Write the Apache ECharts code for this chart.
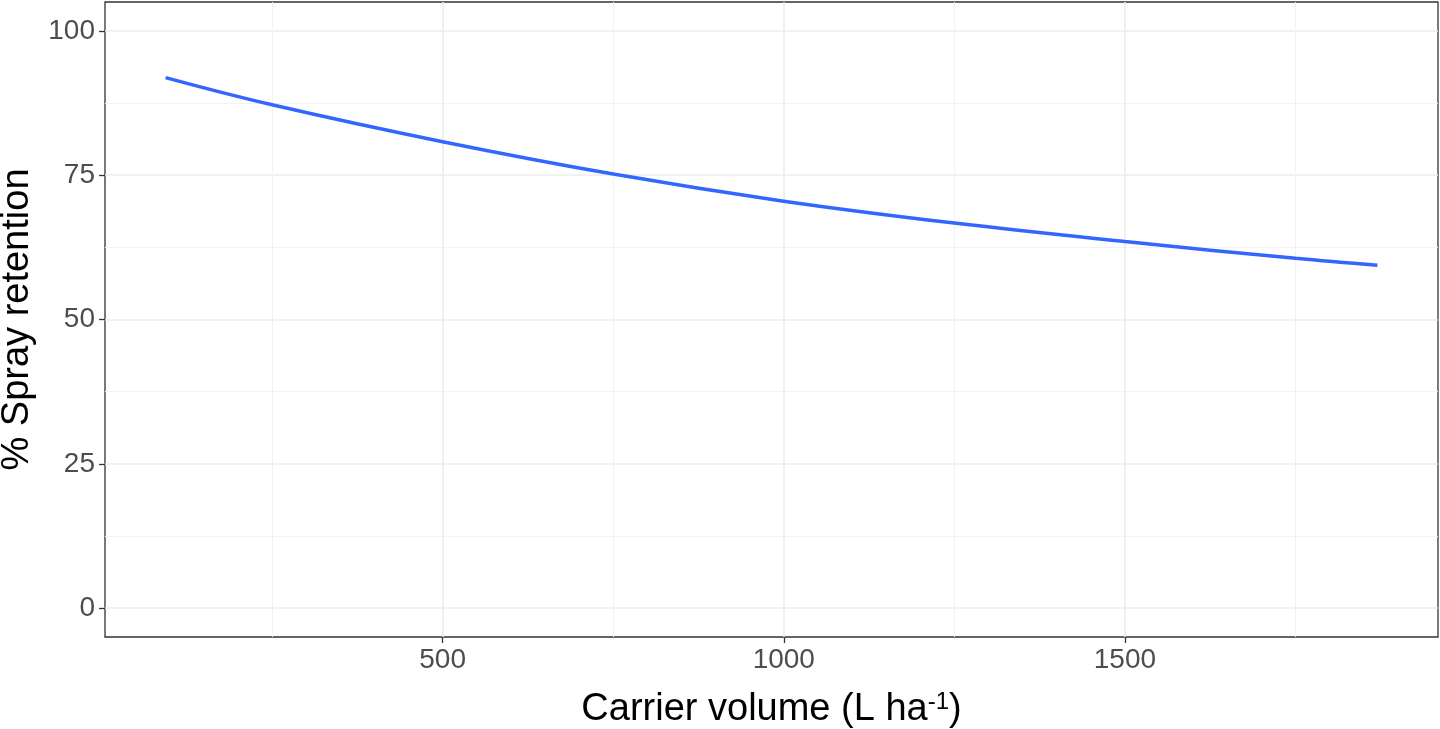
<!DOCTYPE html>
<html>
<head>
<meta charset="utf-8">
<title>Spray retention</title>
<script src="https://cdn.jsdelivr.net/npm/echarts@6/dist/echarts.min.js"></script>
<style>
  html, body { margin: 0; padding: 0; background: #fff; }
  #main { width: 1440px; height: 729px; }
</style>
</head>
<body>
<div id="main"></div>
<script>
// data
var carrierVolume = [94, 250, 500, 750, 1000, 1250, 1500, 1750, 1870];
var sprayRetention = [91.9, 87.2, 80.8, 75.2, 70.5, 66.7, 63.5, 60.6, 59.4];

var xMajor = [500, 1000, 1500];
var xMinor = [250, 750, 1250, 1750];
var yMajor = [0, 25, 50, 75, 100];
var yMinor = [12.5, 37.5, 62.5, 87.5];

var FONT = 'Liberation Sans, Arial, sans-serif';

var lineData = [];
for (var i = 0; i < carrierVolume.length; i++) {
  lineData.push([carrierVolume[i], sprayRetention[i]]);
}

var myChart = echarts.init(document.getElementById('main'));

// minor grid lines go on a second, label-less axis
function minorAxis(pos, vals, min, max) {
  return {
    type: 'value', position: pos, min: min, max: max,
    axisLine: { show: false, onZero: false },
    axisLabel: { show: false },
    axisTick: { show: false, customValues: vals },
    splitLine: { show: true, lineStyle: { color: '#f2f2f2', width: 1 } }
  };
}

var option = {
  animation: false,
  backgroundColor: '#fff',
  grid: {
    left: 105, right: 2, top: 2, bottom: 92,
    show: true, borderColor: '#333', borderWidth: 1.3,
    containLabel: false,
    outerBoundsMode: 'none'
  },
  xAxis: [
    minorAxis('bottom', xMinor, 5.2, 1958.8),
    {
      type: 'value', position: 'bottom', min: 5.2, max: 1958.8,
      name: 'Carrier volume (L ha{sup|-1})',
      nameLocation: 'middle', nameGap: 53,
      nameTextStyle: {
        fontFamily: FONT, fontSize: 38, color: '#000',
        rich: { sup: { fontFamily: FONT, fontSize: 24, color: '#000', verticalAlign: 'top', padding: [0, 0, 16, 0] } }
      },
      axisLine: { show: false, onZero: false },
      axisTick: { show: true, length: 6, customValues: xMajor, lineStyle: { color: '#333', width: 1.3 } },
      axisLabel: {
        customValues: xMajor, fontFamily: FONT, fontSize: 28, color: '#4d4d4d', margin: 9,
        formatter: function (v) { return String(v); }
      },
      splitLine: { show: true, lineStyle: { color: '#ebebeb', width: 1.6 } }
    }
  ],
  yAxis: [
    minorAxis('left', yMinor, -5, 105),
    {
      type: 'value', position: 'left', min: -5, max: 105,
      name: '% Spray retention',
      nameLocation: 'middle', nameGap: 68,
      nameTextStyle: { fontFamily: FONT, fontSize: 38, color: '#000' },
      axisLine: { show: false, onZero: false },
      axisTick: { show: true, length: 6, customValues: yMajor, lineStyle: { color: '#333', width: 1.3 } },
      axisLabel: {
        customValues: yMajor, fontFamily: FONT, fontSize: 28, color: '#4d4d4d', margin: 10,
        formatter: function (v) { return String(v); }
      },
      splitLine: { show: true, lineStyle: { color: '#ebebeb', width: 1.6 } }
    }
  ],
  series: [{
    type: 'line',
    xAxisIndex: 1, yAxisIndex: 1,
    data: lineData,
    smooth: 0.4,
    showSymbol: false,
    lineStyle: { color: '#3366ff', width: 3.5 },
    z: 5
  }]
};
myChart.setOption(option);
</script>
</body>
</html>
